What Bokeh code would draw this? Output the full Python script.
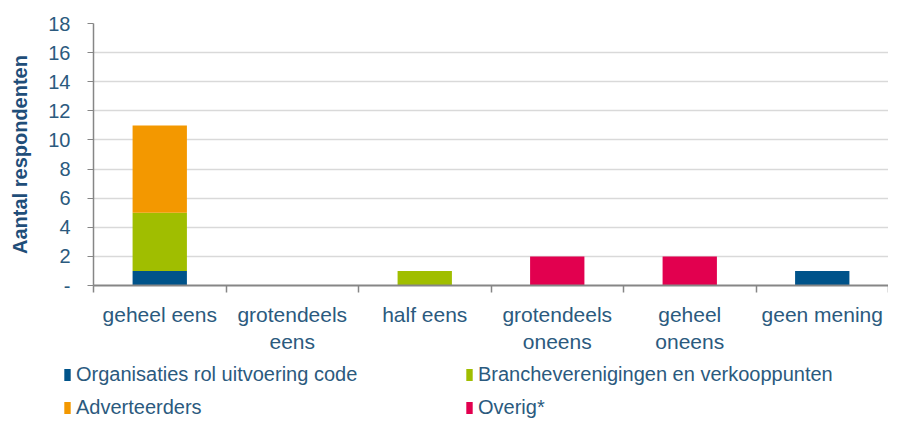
import numpy as np
from bokeh.plotting import figure
from bokeh.layouts import column, row
from bokeh.models import FixedTicker, Legend, LegendItem, ColumnDataSource
from bokeh.embed import file_html
from bokeh.resources import INLINE

categories = ["geheel eens", "grotendeels eens", "half eens", "grotendeels oneens", "geheel oneens", "geen mening"]
cat_labels = ["geheel eens", "grotendeels\neens", "half eens", "grotendeels\noneens", "geheel\noneens", "geen mening"]
series = ["Organisaties rol uitvoering code", "Brancheverenigingen en verkooppunten", "Adverteerders", "Overig*"]
organisaties = [1, 0, 0, 0, 0, 1]
branche = [4, 0, 1, 0, 0, 0]
adverteerders = [6, 0, 0, 0, 0, 0]
overig = [0, 0, 0, 2, 2, 0]
colors = ["#00538A", "#A0BE00", "#F39800", "#E2004F"]
y_ticks = [0, 2, 4, 6, 8, 10, 12, 14, 16, 18]

FONT = "Liberation Sans"
TXT = "#2B5A7E"
W = 888

xpos = np.arange(len(categories)) + 0.5
src = ColumnDataSource(dict(x=xpos, s0=organisaties, s1=branche, s2=adverteerders, s3=overig))

p = figure(width=W, height=356, output_backend="svg", toolbar_location=None,
           x_range=(0, len(categories)), y_range=(0, 18),
           min_border_left=93, min_border_right=0, min_border_top=23, min_border_bottom=68)
p.outline_line_color = None

rs = p.vbar_stack(["s0", "s1", "s2", "s3"], x="x", width=0.41, source=src,
                  color=colors, line_color=None)

p.xgrid.grid_line_color = None
p.ygrid.grid_line_color = "#D9D9D9"
p.ygrid.grid_line_width = 1.5
p.ygrid.ticker = FixedTicker(ticks=y_ticks)

ya = p.yaxis[0]
ya.ticker = FixedTicker(ticks=y_ticks)
ya.major_label_overrides = {0: "-"}
ya.axis_line_color = "#868686"
ya.axis_line_width = 1.5
ya.major_tick_line_color = "#868686"
ya.major_tick_out = 6
ya.major_tick_in = 0
ya.minor_tick_line_color = None
ya.major_label_text_font = FONT
ya.major_label_text_font_size = "20px"
ya.major_label_text_color = TXT
ya.major_label_standoff = 17
ya.axis_label = "Aantal respondenten"
ya.axis_label_text_font = FONT
ya.axis_label_text_font_style = "bold"
ya.axis_label_text_font_size = "20px"
ya.axis_label_text_color = "#1F4E79"
ya.axis_label_standoff = 14

xa = p.xaxis[0]
xa.ticker = FixedTicker(ticks=list(xpos), minor_ticks=list(range(len(categories) + 1)))
xa.major_label_overrides = {float(x): lab for x, lab in zip(xpos, cat_labels)}
xa.major_tick_line_color = None
xa.minor_tick_line_color = "#868686"
xa.minor_tick_line_width = 1.5
xa.minor_tick_out = 7
xa.minor_tick_in = 0
xa.axis_line_color = "#868686"
xa.axis_line_width = 2
xa.major_label_text_font = FONT
xa.major_label_text_font_size = "21px"
xa.major_label_text_color = TXT
xa.major_label_standoff = 10
xa.major_label_text_align = "center"

# legend figure
p2 = figure(width=W, height=63, output_backend="svg", toolbar_location=None,
            x_range=(0, 1), y_range=(0, 1), x_axis_location=None, y_axis_location=None,
            min_border_left=0, min_border_right=0, min_border_top=0, min_border_bottom=0)
p2.outline_line_color = None
p2.grid.visible = False
dummy = [p2.vbar(x=[5], top=[1], width=0.1, color=c, line_color=None) for c in colors]

items = [LegendItem(label=series[0], renderers=[dummy[0]]),
         LegendItem(label=series[2], renderers=[dummy[2]]),
         LegendItem(label=series[1], renderers=[dummy[1]]),
         LegendItem(label=series[3], renderers=[dummy[3]])]
legend = Legend(items=items, ncols=2, orientation="vertical",
                location=(63, 0),
                glyph_width=8, glyph_height=15, label_width=379, label_height=20,
                label_standoff=5, spacing=10,
                label_text_font=FONT, label_text_font_size="20px", label_text_color=TXT,
                border_line_color=None, background_fill_alpha=0, padding=0, margin=0)
p2.add_layout(legend)

open("out.html", "w").write(file_html(column(p, row(p2), spacing=0), INLINE))
